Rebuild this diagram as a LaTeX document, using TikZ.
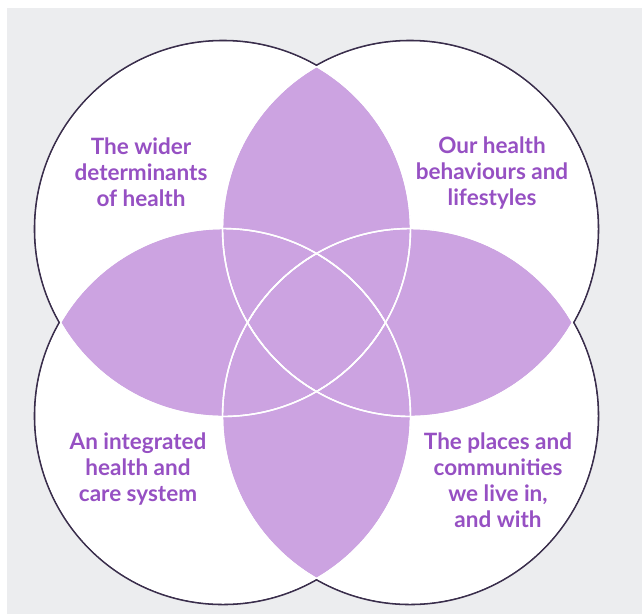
\documentclass[tikz,border=0pt]{standalone}
\usepackage{fontspec}
\setmainfont{Lato}
\definecolor{bggray}{HTML}{ECEDEF}
\definecolor{lav}{HTML}{CCA3E1}
\definecolor{txtpurple}{HTML}{9650C3}
\definecolor{outl}{HTML}{3A2E4C}
\tikzset{
  lbl/.style={align=center, text=txtpurple, inner sep=0pt,
    font=\bfseries\fontsize{22.5}{26}\selectfont},
}
\begin{document}
\begin{tikzpicture}[x=1pt,y=-1pt]
\useasboundingbox (0,0) rectangle (642,614);
\fill[white] (0,0) rectangle (642,614);
\fill[bggray] (7,8) rectangle (642,614);
\def\R{187.5pt}
\coordinate (cTL) at (223,229);
\coordinate (cTR) at (410,229);
\coordinate (cBL) at (223,416);
\coordinate (cBR) at (410,416);
% outer outline
\foreach \c in {cTL,cTR,cBL,cBR}
  \draw[outl, line width=3.6pt] (\c) circle[radius=\R];
\foreach \c in {cTL,cTR,cBL,cBR}
  \fill[white] (\c) circle[radius=\R];
% overlaps
\foreach \a/\b in {cTL/cTR,cTL/cBL,cTL/cBR,cTR/cBL,cTR/cBR,cBL/cBR}{
  \begin{scope}
    \clip (\a) circle[radius=\R];
    \fill[lav] (\b) circle[radius=\R];
  \end{scope}
}
% white circle lines inside the overlaps
\foreach \a in {cTL,cTR,cBL,cBR}{
  \foreach \b in {cTL,cTR,cBL,cBR}{
    \begin{scope}
      \clip (\b) circle[radius=\R];
      \draw[white, line width=1.4pt] (\a) circle[radius=\R];
    \end{scope}
  }
}
\node[lbl] (tl) at (141,172) {The wider\\determinants\\of health};
\node[lbl] (tr) at (492,173) {Our health\\behaviours and\\lifestyles};
\node[lbl] (bl) at (138,469) {An integrated\\health and\\care system};
\node[lbl] (br) at (498,480) {The places and\\communities\\we live in,\\and with};
\end{tikzpicture}
\end{document}
